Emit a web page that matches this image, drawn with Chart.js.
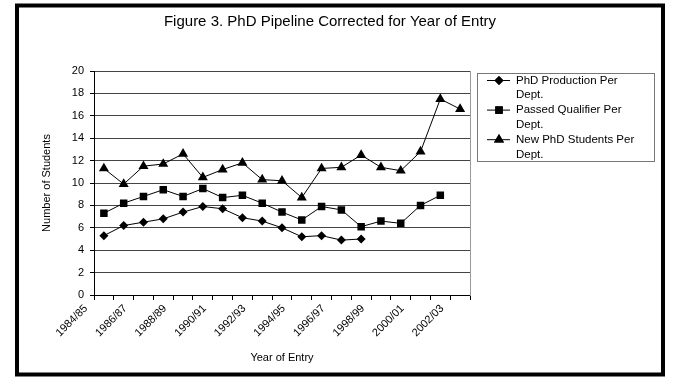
<!DOCTYPE html>
<html>
<head>
<meta charset="utf-8">
<script src="https://cdn.jsdelivr.net/npm/chart.js@4"></script>
<style>
  body { margin: 0; background: #fff; }
  canvas { display: block; }
</style>
</head>
<body>
<canvas id="chart" width="685" height="387"></canvas>
<script>
// categories (year of entry)
var years = ["1984/85", "1985/86", "1986/87", "1987/88", "1988/89", "1989/90", "1990/91",
    "1991/92", "1992/93", "1993/94", "1994/95", "1995/96", "1996/97", "1997/98",
    "1998/99", "1999/00", "2000/01", "2001/02", "2002/03"];

// series values
var phdProduction = [5.3, 6.2, 6.5, 6.8, 7.4, 7.9, 7.7, 6.9, 6.6, 6.0, 5.2, 5.3, 4.9, 5.0];
var passedQualifier = [7.3, 8.2, 8.8, 9.4, 8.8, 9.5, 8.7, 8.9, 8.2, 7.4, 6.7, 7.9, 7.6, 6.1, 6.6, 6.4, 8.0, 8.9];
var newStudents = [11.3, 9.9, 11.5, 11.7, 12.6, 10.5, 11.2, 11.8, 10.3, 10.2, 8.7, 11.3, 11.4, 12.5, 11.4, 11.1, 12.8, 17.5, 16.6];

var seriesNames = ["PhD Production Per Dept.", "Passed Qualifier Per Dept.", "New PhD Students Per Dept."];
var yTicks = [0, 2, 4, 6, 8, 10, 12, 14, 16, 18, 20];

var FONT = "Arial, 'Liberation Sans', Helvetica, sans-serif";

// thick black frame around the whole figure
const framePlugin = {
    id: "frame",
    afterDraw(chart) {
        const ctx = chart.ctx;
        ctx.save();
        ctx.strokeStyle = "#000";
        ctx.lineWidth = 4;
        ctx.strokeRect(17, 5.5, 646, 369);
        ctx.restore();
    }
};

// boxed legend with wrapped labels, like the Excel original
const boxLegend = {
    id: "boxLegend",
    afterDraw(chart) {
        const ctx = chart.ctx;
        const left = 477.5, top = 73.5, right = 654.5, bottom = 161.5;
        const lineH = 14.8;
        ctx.save();
        ctx.strokeStyle = "#777";
        ctx.lineWidth = 1;
        ctx.strokeRect(left, top, right - left, bottom - top);
        ctx.font = "11.5px " + FONT;
        ctx.fillStyle = "#000";
        ctx.textBaseline = "middle";
        let y = top + 7;
        chart.data.datasets.forEach(function (ds) {
            // wrap the label
            const words = ds.label.split(" ");
            const lines = [];
            let cur = "";
            words.forEach(function (w) {
                const test = cur ? cur + " " + w : w;
                if (ctx.measureText(test).width > 128 && cur) {
                    lines.push(cur);
                    cur = w;
                } else {
                    cur = test;
                }
            });
            lines.push(cur);

            ctx.strokeStyle = "#000";
            ctx.beginPath();
            ctx.moveTo(487, y);
            ctx.lineTo(510, y);
            ctx.stroke();
            Chart.helpers.drawPoint(ctx, {
                pointStyle: ds.pointStyle,
                radius: ds.pointRadius,
                borderWidth: 0
            }, 499, y);
            ctx.fill();

            lines.forEach(function (ln, i) {
                ctx.fillText(ln, 516, y + i * lineH);
            });
            y += lines.length * lineH;
        });
        ctx.restore();
    }
};

function makeSeries(label, data, style, radius) {
    return {
        label: label,
        data: data,
        borderColor: "#000",
        borderWidth: 1,
        backgroundColor: "#000",
        pointStyle: style,
        pointRadius: radius,
        pointBorderWidth: 0,
        pointBackgroundColor: "#000",
        tension: 0,
        spanGaps: false
    };
}

new Chart(document.getElementById("chart"), {
    type: "line",
    data: {
        labels: years,
        datasets: [
            makeSeries(seriesNames[0], phdProduction, "rectRot", 4.5),
            makeSeries(seriesNames[1], passedQualifier, "rect", 5.3),
            makeSeries(seriesNames[2], newStudents, "triangle", 5.8)
        ]
    },
    options: {
        responsive: false,
        animation: false,
        devicePixelRatio: 1,
        layout: { padding: { left: 0, right: 25, top: 0, bottom: 0 } },
        plugins: {
            legend: { display: false },
            tooltip: { enabled: false },
            title: {
                display: true,
                text: "Figure 3. PhD Pipeline Corrected for Year of Entry",
                color: "#000",
                font: { family: FONT, size: 15, weight: "normal" },
                padding: { top: 13, bottom: 40 }
            }
        },
        scales: {
            x: {
                offset: true,
                grid: {
                    offset: true,
                    drawOnChartArea: false,
                    drawTicks: true,
                    tickLength: 5,
                    tickColor: "#000"
                },
                border: { display: true, color: "#000", width: 1 },
                ticks: {
                    autoSkip: false,
                    maxRotation: 45,
                    minRotation: 45,
                    labelOffset: -18,
                    padding: 2,
                    color: "#000",
                    font: { family: FONT, size: 11 },
                    callback: function (value, index) {
                        return index % 2 === 0 ? years[index] : "";
                    }
                },
                title: {
                    display: true,
                    text: "Year of Entry",
                    color: "#000",
                    font: { family: FONT, size: 11 },
                    padding: { top: 0, bottom: 22 }
                },
                afterFit: function (scale) { scale.height = 92; }
            },
            y: {
                min: 0,
                max: 20,
                afterBuildTicks: function (scale) {
                    scale.ticks = yTicks.map(function (v) { return { value: v }; });
                },
                grid: {
                    color: "#444",
                    lineWidth: 1,
                    drawTicks: true,
                    tickLength: 4,
                    tickColor: "#000"
                },
                border: { display: true, color: "#000", width: 1 },
                ticks: {
                    padding: 6,
                    color: "#000",
                    font: { family: FONT, size: 11 }
                },
                title: {
                    display: true,
                    text: "Number of Students",
                    color: "#000",
                    font: { family: FONT, size: 11 },
                    padding: { top: 40, bottom: 0 }
                },
                afterFit: function (scale) { scale.width = 94; }
            },
            edge: {
                type: "linear",
                position: "right",
                min: 0,
                max: 20,
                grid: { display: false },
                ticks: { display: false },
                border: { display: true, color: "#999", width: 1, dash: [2, 2] },
                afterFit: function (scale) { scale.width = 190; }
            }
        }
    },
    plugins: [framePlugin, boxLegend]
});
</script>
</body>
</html>
